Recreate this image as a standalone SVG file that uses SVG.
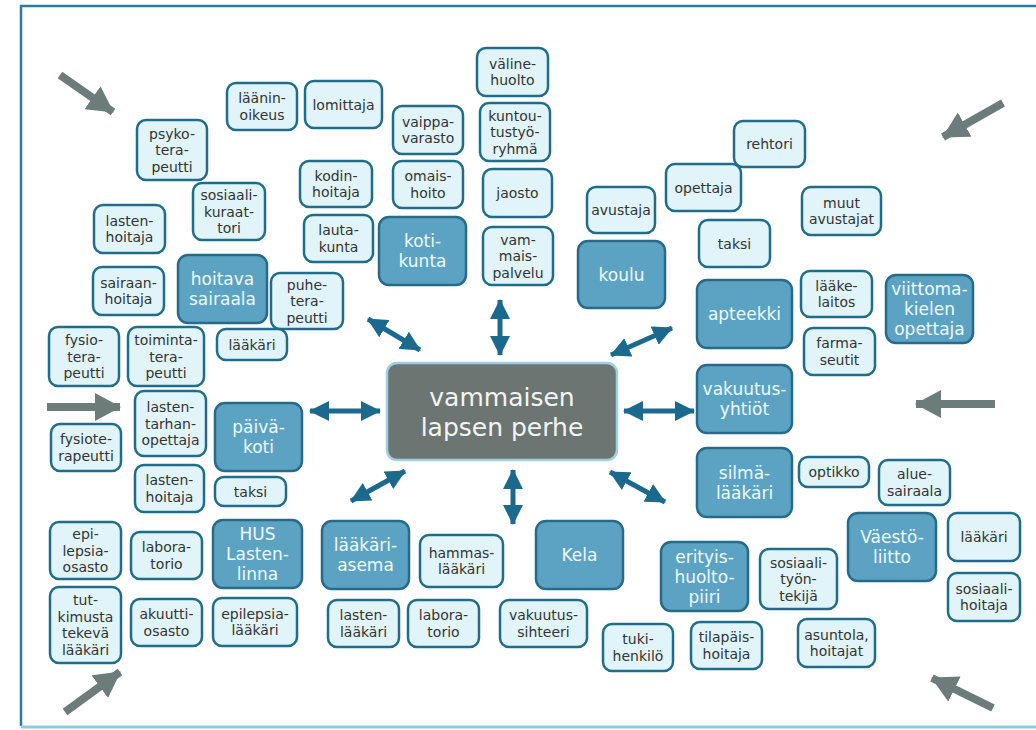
<svg xmlns="http://www.w3.org/2000/svg" width="1036" height="730" viewBox="0 0 1036 730">
<style>
.l rect{fill:#e1f4fa;stroke:#1f6c8b;stroke-width:2.5}
.d rect{fill:#5ca3c3;stroke:#276b89;stroke-width:2.5}
.l text{font-family:"DejaVu Sans","Open Sans",sans-serif;font-size:14px;fill:#333;text-anchor:middle}
.d text{font-family:"DejaVu Sans","Open Sans",sans-serif;font-size:17px;fill:#eef8fb;text-anchor:middle}
.c rect{fill:#6d7572;stroke:#9fd0e2;stroke-width:2.5}
.c text{font-family:"DejaVu Sans","Open Sans",sans-serif;font-size:25px;fill:#f2f5f4;text-anchor:middle}
.da{stroke:#1b6a8e;stroke-width:5;marker-start:url(#bh);marker-end:url(#bh)}
.ga{stroke:#6c7c78;stroke-width:8;marker-end:url(#gh)}
</style>
<defs>
<marker id="bh" markerUnits="userSpaceOnUse" viewBox="0 0 20 20" markerWidth="20" markerHeight="20" refX="19" refY="10" orient="auto-start-reverse"><path d="M0,0 L20,10 L0,20 z" fill="#1b6a8e"/></marker>
<marker id="gh" markerUnits="userSpaceOnUse" viewBox="0 0 26 28" markerWidth="26" markerHeight="28" refX="25" refY="14" orient="auto"><path d="M0,0 L26,14 L0,28 z" fill="#6c7c78"/></marker>
</defs>
<rect width="1036" height="730" fill="#fff"/>
<path d="M1036,6 H21 V726" fill="none" stroke="#2a7ca2" stroke-width="2.5"/>
<path d="M21,727 H1036" fill="none" stroke="#8ccbe0" stroke-width="3"/>

<g id="connectors">
<line class="da" x1="368" y1="319" x2="420" y2="350"/>
<line class="da" x1="500" y1="300" x2="500" y2="355"/>
<line class="da" x1="611" y1="355" x2="672" y2="328"/>
<line class="da" x1="310" y1="411" x2="380" y2="411"/>
<line class="da" x1="624" y1="411" x2="694" y2="411"/>
<line class="da" x1="351" y1="501" x2="405" y2="471"/>
<line class="da" x1="513" y1="470" x2="513" y2="524"/>
<line class="da" x1="610" y1="472" x2="665" y2="502"/>
<line class="ga" x1="60" y1="75" x2="113" y2="112"/>
<line class="ga" x1="1003" y1="103" x2="943" y2="137"/>
<line class="ga" x1="47" y1="407" x2="120" y2="407"/>
<line class="ga" x1="995" y1="404" x2="916" y2="404"/>
<line class="ga" x1="65" y1="712" x2="120" y2="672"/>
<line class="ga" x1="993" y1="708" x2="932" y2="678"/>
</g>

<g id="center" class="c"><rect x="387" y="363" width="230" height="97" rx="10"/><text x="502" y="406">vammaisen<tspan x="502" dy="30">lapsen perhe</tspan></text></g>

<g id="n-laaninoikeus" class="l"><rect x="227" y="83" width="70" height="47" rx="9"/><text x="262" y="103.25">läänin-<tspan x="262" dy="16.5">oikeus</tspan></text></g>
<g id="n-lomittaja" class="l"><rect x="305" y="81" width="77" height="47" rx="9"/><text x="343.5" y="109.5">lomittaja</text></g>
<g id="n-psykoterapeutti" class="l"><rect x="137" y="120" width="70" height="60" rx="9"/><text x="172" y="138.5">psyko-<tspan x="172" dy="16.5">tera-</tspan><tspan x="172" dy="16.5">peutti</tspan></text></g>
<g id="n-sosiaalikuraattori" class="l"><rect x="193" y="183" width="72" height="57" rx="9"/><text x="229" y="200">sosiaali-<tspan x="229" dy="16.5">kuraat-</tspan><tspan x="229" dy="16.5">tori</tspan></text></g>
<g id="n-lastenhoitaja1" class="l"><rect x="94" y="205" width="71" height="48" rx="9"/><text x="129.5" y="225.75">lasten-<tspan x="129.5" dy="16.5">hoitaja</tspan></text></g>
<g id="n-kodinhoitaja" class="l"><rect x="300" y="161" width="72" height="46" rx="9"/><text x="336" y="180.75">kodin-<tspan x="336" dy="16.5">hoitaja</tspan></text></g>
<g id="n-lautakunta" class="l"><rect x="304" y="215" width="69" height="47" rx="9"/><text x="338.5" y="235.25">lauta-<tspan x="338.5" dy="16.5">kunta</tspan></text></g>
<g id="n-hoitavasairaala" class="d"><rect x="178" y="255" width="89" height="68" rx="10"/><text x="222.5" y="285">hoitava<tspan x="222.5" dy="20">sairaala</tspan></text></g>
<g id="n-puheterapeutti" class="l"><rect x="271" y="273" width="72" height="56" rx="9"/><text x="307" y="289.5">puhe-<tspan x="307" dy="16.5">tera-</tspan><tspan x="307" dy="16.5">peutti</tspan></text></g>
<g id="n-sairaanhoitaja" class="l"><rect x="93" y="267" width="71" height="48" rx="9"/><text x="128.5" y="287.75">sairaan-<tspan x="128.5" dy="16.5">hoitaja</tspan></text></g>
<g id="n-fysioterapeutti" class="l"><rect x="49" y="327" width="70" height="59" rx="9"/><text x="84" y="345">fysio-<tspan x="84" dy="16.5">tera-</tspan><tspan x="84" dy="16.5">peutti</tspan></text></g>
<g id="n-toimintaterapeutti" class="l"><rect x="128" y="327" width="76" height="59" rx="9"/><text x="166" y="345">toiminta-<tspan x="166" dy="16.5">tera-</tspan><tspan x="166" dy="16.5">peutti</tspan></text></g>
<g id="n-laakari1" class="l"><rect x="217" y="329" width="70" height="31" rx="9"/><text x="252" y="349.5">lääkäri</text></g>
<g id="n-lastentarhanopettaja" class="l"><rect x="135" y="391" width="71" height="65" rx="9"/><text x="170.5" y="412">lasten-<tspan x="170.5" dy="16.5">tarhan-</tspan><tspan x="170.5" dy="16.5">opettaja</tspan></text></g>
<g id="n-paivakoti" class="d"><rect x="215" y="403" width="87" height="68" rx="10"/><text x="258.5" y="433">päivä-<tspan x="258.5" dy="20">koti</tspan></text></g>
<g id="n-fysioterapeutti2" class="l"><rect x="51" y="424" width="70" height="47" rx="9"/><text x="86" y="444.25">fysiote-<tspan x="86" dy="16.5">rapeutti</tspan></text></g>
<g id="n-lastenhoitaja2" class="l"><rect x="135" y="465" width="69" height="47" rx="9"/><text x="169.5" y="485.25">lasten-<tspan x="169.5" dy="16.5">hoitaja</tspan></text></g>
<g id="n-taksi1" class="l"><rect x="215" y="477" width="71" height="29" rx="9"/><text x="250.5" y="496.5">taksi</text></g>
<g id="n-epilepsiaosasto" class="l"><rect x="50" y="522" width="71" height="57" rx="9"/><text x="85.5" y="539">epi-<tspan x="85.5" dy="16.5">lepsia-</tspan><tspan x="85.5" dy="16.5">osasto</tspan></text></g>
<g id="n-laboratorio1" class="l"><rect x="131" y="532" width="71" height="47" rx="9"/><text x="166.5" y="552.25">labora-<tspan x="166.5" dy="16.5">torio</tspan></text></g>
<g id="n-huslastenlinna" class="d"><rect x="213" y="520" width="89" height="68" rx="10"/><text x="257.5" y="540">HUS<tspan x="257.5" dy="20">Lasten-</tspan><tspan x="257.5" dy="20">linna</tspan></text></g>
<g id="n-tutkimustatekeva" class="l"><rect x="50" y="587" width="71" height="76" rx="9"/><text x="85.5" y="605.25">tut-<tspan x="85.5" dy="16.5">kimusta</tspan><tspan x="85.5" dy="16.5">tekevä</tspan><tspan x="85.5" dy="16.5">lääkäri</tspan></text></g>
<g id="n-akuuttiosasto" class="l"><rect x="131" y="599" width="71" height="47" rx="9"/><text x="166.5" y="619.25">akuutti-<tspan x="166.5" dy="16.5">osasto</tspan></text></g>
<g id="n-epilepsialaakari" class="l"><rect x="213" y="598" width="84" height="48" rx="9"/><text x="255" y="618.75">epilepsia-<tspan x="255" dy="16.5">lääkäri</tspan></text></g>
<g id="n-laakariasema" class="d"><rect x="322" y="521" width="87" height="68" rx="10"/><text x="365.5" y="551">lääkäri-<tspan x="365.5" dy="20">asema</tspan></text></g>
<g id="n-hammaslaakari" class="l"><rect x="420" y="535" width="83" height="52" rx="9"/><text x="461.5" y="557.75">hammas-<tspan x="461.5" dy="16.5">lääkäri</tspan></text></g>
<g id="n-kela" class="d"><rect x="536" y="521" width="87" height="68" rx="10"/><text x="579.5" y="561">Kela</text></g>
<g id="n-lastenlaakari" class="l"><rect x="328" y="600" width="71" height="47" rx="9"/><text x="363.5" y="620.25">lasten-<tspan x="363.5" dy="16.5">lääkäri</tspan></text></g>
<g id="n-laboratorio2" class="l"><rect x="408" y="600" width="71" height="47" rx="9"/><text x="443.5" y="620.25">labora-<tspan x="443.5" dy="16.5">torio</tspan></text></g>
<g id="n-vakuutussihteeri" class="l"><rect x="500" y="600" width="87" height="47" rx="9"/><text x="543.5" y="620.25">vakuutus-<tspan x="543.5" dy="16.5">sihteeri</tspan></text></g>
<g id="n-tukihenkilo" class="l"><rect x="603" y="624" width="70" height="47" rx="9"/><text x="638" y="644.25">tuki-<tspan x="638" dy="16.5">henkilö</tspan></text></g>
<g id="n-erityishuoltopiiri" class="d"><rect x="661" y="542" width="87" height="69" rx="10"/><text x="704.5" y="562.5">erityis-<tspan x="704.5" dy="20">huolto-</tspan><tspan x="704.5" dy="20">piiri</tspan></text></g>
<g id="n-sosiaalityontekija" class="l"><rect x="760" y="549" width="77" height="60" rx="9"/><text x="798.5" y="567.5">sosiaali-<tspan x="798.5" dy="16.5">työn-</tspan><tspan x="798.5" dy="16.5">tekijä</tspan></text></g>
<g id="n-vaestoliitto" class="d"><rect x="848" y="513" width="88" height="68" rx="10"/><text x="892" y="543">Väestö-<tspan x="892" dy="20">liitto</tspan></text></g>
<g id="n-laakari2" class="l"><rect x="948" y="513" width="72" height="48" rx="9"/><text x="984" y="542">lääkäri</text></g>
<g id="n-sosiaalihoitaja" class="l"><rect x="948" y="573" width="72" height="48" rx="9"/><text x="984" y="593.75">sosiaali-<tspan x="984" dy="16.5">hoitaja</tspan></text></g>
<g id="n-tilapaishoitaja" class="l"><rect x="691" y="622" width="71" height="47" rx="9"/><text x="726.5" y="642.25">tilapäis-<tspan x="726.5" dy="16.5">hoitaja</tspan></text></g>
<g id="n-asuntola" class="l"><rect x="798" y="619" width="77" height="48" rx="9"/><text x="836.5" y="639.75">asuntola,<tspan x="836.5" dy="16.5">hoitajat</tspan></text></g>
<g id="n-farmaseutit" class="l"><rect x="804" y="328" width="71" height="47" rx="9"/><text x="839.5" y="348.25">farma-<tspan x="839.5" dy="16.5">seutit</tspan></text></g>
<g id="n-vakuutusyhtiot" class="d"><rect x="697" y="365" width="95" height="68" rx="10"/><text x="744.5" y="395">vakuutus-<tspan x="744.5" dy="20">yhtiöt</tspan></text></g>
<g id="n-silmalaakari" class="d"><rect x="697" y="448" width="95" height="69" rx="10"/><text x="744.5" y="478.5">silmä-<tspan x="744.5" dy="20">lääkäri</tspan></text></g>
<g id="n-optikko" class="l"><rect x="799" y="457" width="70" height="30" rx="9"/><text x="834" y="477">optikko</text></g>
<g id="n-aluesairaala" class="l"><rect x="879" y="460" width="71" height="45" rx="9"/><text x="914.5" y="479.25">alue-<tspan x="914.5" dy="16.5">sairaala</tspan></text></g>
<g id="n-rehtori" class="l"><rect x="734" y="121" width="71" height="46" rx="9"/><text x="769.5" y="149">rehtori</text></g>
<g id="n-opettaja" class="l"><rect x="666" y="164" width="75" height="47" rx="9"/><text x="703.5" y="192.5">opettaja</text></g>
<g id="n-muutavustajat" class="l"><rect x="802" y="187" width="79" height="48" rx="9"/><text x="841.5" y="207.75">muut<tspan x="841.5" dy="16.5">avustajat</tspan></text></g>
<g id="n-taksi2" class="l"><rect x="699" y="220" width="71" height="47" rx="9"/><text x="734.5" y="248.5">taksi</text></g>
<g id="n-apteekki" class="d"><rect x="697" y="280" width="95" height="68" rx="10"/><text x="744.5" y="320">apteekki</text></g>
<g id="n-laakelaitos" class="l"><rect x="801" y="271" width="71" height="46" rx="9"/><text x="836.5" y="290.75">lääke-<tspan x="836.5" dy="16.5">laitos</tspan></text></g>
<g id="n-viittomakielenopettaja" class="d"><rect x="886" y="275" width="87" height="68" rx="10"/><text x="929.5" y="295">viittoma-<tspan x="929.5" dy="20">kielen</tspan><tspan x="929.5" dy="20">opettaja</tspan></text></g>
<g id="n-valinehuolto" class="l"><rect x="477" y="48" width="71" height="48" rx="9"/><text x="512.5" y="68.75">väline-<tspan x="512.5" dy="16.5">huolto</tspan></text></g>
<g id="n-kuntoutustyoryhma" class="l"><rect x="480" y="103" width="70" height="58" rx="9"/><text x="515" y="120.5">kuntou-<tspan x="515" dy="16.5">tustyö-</tspan><tspan x="515" dy="16.5">ryhmä</tspan></text></g>
<g id="n-vaippavarasto" class="l"><rect x="393" y="106" width="70" height="48" rx="9"/><text x="428" y="126.75">vaippa-<tspan x="428" dy="16.5">varasto</tspan></text></g>
<g id="n-omaishoito" class="l"><rect x="393" y="161" width="70" height="47" rx="9"/><text x="428" y="181.25">omais-<tspan x="428" dy="16.5">hoito</tspan></text></g>
<g id="n-jaosto" class="l"><rect x="483" y="169" width="69" height="48" rx="9"/><text x="517.5" y="198">jaosto</text></g>
<g id="n-kotikunta" class="d"><rect x="379" y="217" width="87" height="68" rx="10"/><text x="422.5" y="247">koti-<tspan x="422.5" dy="20">kunta</tspan></text></g>
<g id="n-vammaispalvelu" class="l"><rect x="483" y="227" width="70" height="58" rx="9"/><text x="518" y="244.5">vam-<tspan x="518" dy="16.5">mais-</tspan><tspan x="518" dy="16.5">palvelu</tspan></text></g>
<g id="n-avustaja" class="l"><rect x="587" y="187" width="68" height="46" rx="9"/><text x="621" y="215">avustaja</text></g>
<g id="n-koulu" class="d"><rect x="578" y="241" width="87" height="67" rx="10"/><text x="621.5" y="280.5">koulu</text></g>
</svg>
